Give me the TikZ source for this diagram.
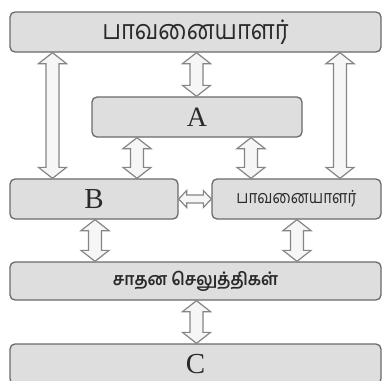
\documentclass[tikz,border=0pt]{standalone}
\usepackage{fontspec}
\setmainfont{Liberation Serif}
\newfontfamily\tam[Script=Tamil]{Hind Madurai}
\usetikzlibrary{calc}
\definecolor{boxfill}{HTML}{DEDEDE}
\definecolor{boxline}{HTML}{6A6A6A}
\definecolor{arrline}{HTML}{858585}
\definecolor{arrfill}{HTML}{F6F6F6}
\definecolor{txt}{HTML}{2A2A2A}
\tikzset{
  box/.style={draw=boxline, fill=boxfill, line width=1.3pt, rounded corners=5pt, inner sep=0pt, text=txt},
  arr/.style={draw=arrline, fill=arrfill, line width=1.2pt, line join=miter},
}
% double hollow arrow: #1 start, #2 end, #3 half head width, #4 half shaft width, #5 head length
\newcommand\darr[5]{%
  \draw[arr] (#1)
   -- ($($(#1)!#5!(#2)$)!#3!90:(#2)$)
   -- ($($(#1)!#5!(#2)$)!#4!90:(#2)$)
   -- ($($(#2)!#5!(#1)$)!#4!-90:(#1)$)
   -- ($($(#2)!#5!(#1)$)!#3!-90:(#1)$)
   -- (#2)
   -- ($($(#2)!#5!(#1)$)!#3!90:(#1)$)
   -- ($($(#2)!#5!(#1)$)!#4!90:(#1)$)
   -- ($($(#1)!#5!(#2)$)!#4!-90:(#2)$)
   -- ($($(#1)!#5!(#2)$)!#3!-90:(#2)$)
   -- cycle;}
\begin{document}
\begin{tikzpicture}[x=1pt,y=-1pt]
\useasboundingbox (0,0) rectangle (384,381);
\fill[white] (0,0) rectangle (384,381);
% boxes
\node[box, minimum width=371pt, minimum height=40pt] (T) at (195.5,32) {\raisebox{-1pt}{\scalebox{0.88}[1]{\tam\fontsize{27}{30}\selectfont பாவனையாளர்}}};
\node[box, minimum width=210pt, minimum height=40pt] (A) at (197,117) {\raisebox{-3pt}{\fontsize{28}{30}\selectfont A}};
\node[box, minimum width=168pt, minimum height=40pt] (B) at (94,199) {\raisebox{-3pt}{\fontsize{29}{30}\selectfont B}};
\node[box, minimum width=169pt, minimum height=40pt] (R) at (296.5,199) {\scalebox{0.85}[1]{\tam\fontsize{18}{20}\selectfont பாவனையாளர்}};
\node[box, minimum width=371pt, minimum height=38pt] (M) at (195.5,281) {\scalebox{0.93}[1]{\tam\bfseries\fontsize{17.5}{20}\selectfont சாதன செலுத்திகள்}};
\node[box, minimum width=371pt, minimum height=40pt] (C) at (195.5,364) {\raisebox{-2pt}{\fontsize{29}{30}\selectfont C}};
% x positions
\coordinate (xL) at (52.5,0);
\coordinate (xR) at (340,0);
\coordinate (xM) at (196.5,0);
\coordinate (xAB) at (137,0);
\coordinate (xAR) at (251,0);
\coordinate (xBM) at (95,0);
\coordinate (xRM) at (297,0);
\coordinate (yBR) at (0,199);
% arrows
\darr{T.south -| xL}{B.north -| xL}{14pt}{6.5pt}{11pt}
\darr{T.south -| xR}{R.north -| xR}{14pt}{6.5pt}{11pt}
\darr{T.south -| xM}{A.north -| xM}{14pt}{6.5pt}{11pt}
\darr{A.south -| xAB}{B.north -| xAB}{14pt}{6.5pt}{11pt}
\darr{A.south -| xAR}{R.north -| xAR}{14pt}{6.5pt}{11pt}
\darr{B.east |- yBR}{R.west |- yBR}{8.5pt}{4pt}{8pt}
\darr{B.south -| xBM}{M.north -| xBM}{14pt}{6.5pt}{11pt}
\darr{R.south -| xRM}{M.north -| xRM}{14pt}{6.5pt}{11pt}
\darr{M.south -| xM}{C.north -| xM}{14pt}{6.5pt}{11pt}
\end{tikzpicture}
\end{document}
